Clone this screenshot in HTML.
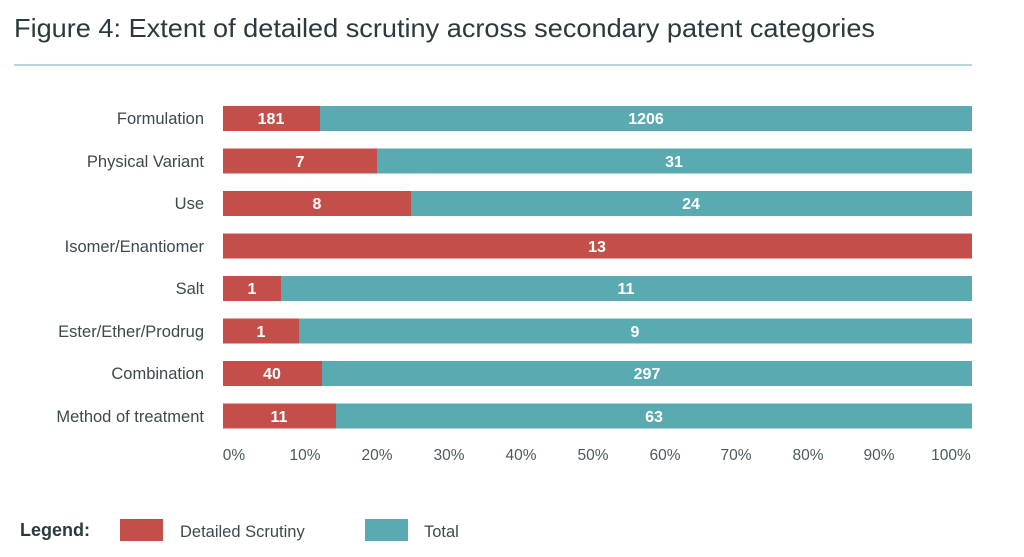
<!DOCTYPE html>
<html><head><meta charset="utf-8"><style>
body{margin:0;background:#fff;width:1024px;height:557px;overflow:hidden}
svg{display:block;font-family:"Liberation Sans",sans-serif}
</style></head><body>
<svg width="1024" height="557" viewBox="0 0 1024 557">
<text x="14" y="37" font-size="26" fill="#2b3a3e" textLength="861" lengthAdjust="spacingAndGlyphs">Figure 4: Extent of detailed scrutiny across secondary patent categories</text>
<rect x="14" y="64" width="958" height="2" fill="#b9d8dc"/>
<g font-size="16.5" fill="#3b4a4e" text-anchor="end">
<text x="204" y="124">Formulation</text>
<text x="204" y="167">Physical Variant</text>
<text x="204" y="209">Use</text>
<text x="204" y="252">Isomer/Enantiomer</text>
<text x="204" y="294">Salt</text>
<text x="204" y="337">Ester/Ether/Prodrug</text>
<text x="204" y="379">Combination</text>
<text x="204" y="422">Method of treatment</text>
</g>
<g>
<rect x="223" y="106" width="749" height="25" fill="#5aabb1"/><rect x="223" y="106" width="97" height="25" fill="#c44f4a"/>
<rect x="223" y="148.5" width="749" height="25" fill="#5aabb1"/><rect x="223" y="148.5" width="154" height="25" fill="#c44f4a"/>
<rect x="223" y="191" width="749" height="25" fill="#5aabb1"/><rect x="223" y="191" width="188" height="25" fill="#c44f4a"/>
<rect x="223" y="233.5" width="749" height="25" fill="#c44f4a"/>
<rect x="223" y="276" width="749" height="25" fill="#5aabb1"/><rect x="223" y="276" width="58" height="25" fill="#c44f4a"/>
<rect x="223" y="318.5" width="749" height="25" fill="#5aabb1"/><rect x="223" y="318.5" width="76" height="25" fill="#c44f4a"/>
<rect x="223" y="361" width="749" height="25" fill="#5aabb1"/><rect x="223" y="361" width="99" height="25" fill="#c44f4a"/>
<rect x="223" y="403.5" width="749" height="25" fill="#5aabb1"/><rect x="223" y="403.5" width="113" height="25" fill="#c44f4a"/>
</g>
<g font-size="16" fill="#fff" font-weight="bold" text-anchor="middle">
<text x="271" y="124">181</text><text x="646" y="124">1206</text>
<text x="300" y="167">7</text><text x="674" y="167">31</text>
<text x="317" y="209">8</text><text x="691" y="209">24</text>
<text x="597" y="252">13</text>
<text x="252" y="294">1</text><text x="626" y="294">11</text>
<text x="261" y="337">1</text><text x="635" y="337">9</text>
<text x="272" y="379">40</text><text x="647" y="379">297</text>
<text x="279" y="422">11</text><text x="654" y="422">63</text>
</g>
<g font-size="15.5" fill="#4a5a5e" text-anchor="middle">
<text x="234" y="460">0%</text><text x="305" y="460">10%</text><text x="377" y="460">20%</text><text x="449" y="460">30%</text><text x="521" y="460">40%</text><text x="593" y="460">50%</text><text x="665" y="460">60%</text><text x="736" y="460">70%</text><text x="808" y="460">80%</text><text x="879" y="460">90%</text><text x="951" y="460">100%</text>
</g>
<text x="20" y="536" font-size="18" font-weight="bold" fill="#2b3a3e">Legend:</text>
<rect x="120" y="519" width="43" height="22" fill="#c44f4a"/>
<text x="180" y="537" font-size="16.5" fill="#3b4a4e">Detailed Scrutiny</text>
<rect x="365" y="519" width="43" height="22" fill="#5aabb1"/>
<text x="424" y="537" font-size="16.5" fill="#3b4a4e">Total</text>
</svg>
</body></html>
